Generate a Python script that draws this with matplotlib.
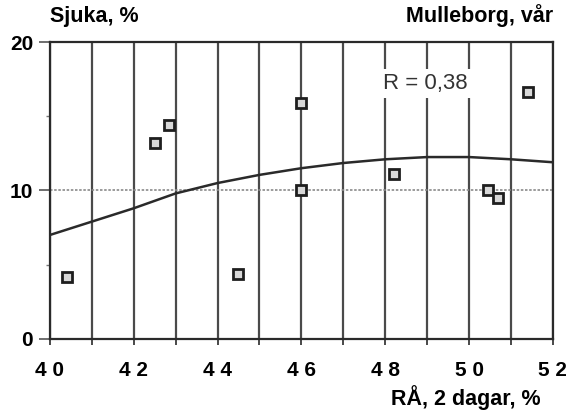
import matplotlib
matplotlib.use("Agg")
import matplotlib.pyplot as plt
import numpy as np

# Observations: RÅ after 2 days (%) vs. share diseased (%)
ra_pct = [40.4, 42.5, 42.85, 44.5, 46.0, 46.0, 48.2, 50.45, 50.7, 51.4]
sjuka_pct = [4.2, 13.2, 14.4, 4.4, 15.9, 10.0, 11.1, 10.0, 9.5, 16.6]

# Second-degree trend line, sampled at each whole percent
trend_x = [40, 41, 42, 43, 44, 45, 46, 47, 48, 49, 50, 51, 52]
trend_y = [7.0, 7.9, 8.8, 9.8, 10.5, 11.05, 11.5, 11.85, 12.1, 12.25, 12.25, 12.1, 11.9]

x_ticks = [40, 42, 44, 46, 48, 50, 52]
y_ticks = [0, 10, 20]
ref_level = 10
r_label = "R = 0,38"

plt.rcParams['font.family'] = ['Liberation Sans', 'DejaVu Sans']

fig = plt.figure(figsize=(5.66, 4.2), dpi=100)
ax = fig.add_axes([0.088, 0.193, 0.889, 0.707])
ax.set_xlim(40, 52)
ax.set_ylim(0, 20)

grid_col = '#4a4a4a'
# vertical grid at every whole percent
for gx in range(40, 53):
    ax.axvline(gx, color=grid_col, lw=1.6, zorder=1)
ax.axhline(ref_level, color='#8a8a8a', lw=1.2, ls=(0, (1.5, 1)), zorder=1)

for s in ax.spines.values():
    s.set_color('#2a2a2a')
    s.set_linewidth(1.6)

ax.plot(trend_x, trend_y, color='#2a2a2a', lw=1.8, zorder=3)
ax.plot(ra_pct, sjuka_pct, ls='none', marker='s', markersize=6.5,
        markerfacecolor='#d8d8d8', markeredgecolor='#1e1e1e',
        markeredgewidth=2.0, zorder=4)

ax.set_xticks(range(40, 53))
ax.set_xticklabels([f"{v//10} {v%10}" if v in x_ticks else "" for v in range(40, 53)],
                   fontsize=15, fontweight='bold')
ax.set_yticks(y_ticks)
ax.set_yticklabels([str(v) for v in y_ticks], fontsize=15, fontweight='bold')
ax.set_yticks([5, 15], minor=True)
ax.tick_params(axis='x', length=4, width=1.2, color='#2a2a2a', pad=12)
ax.tick_params(axis='y', which='major', length=8, width=1.2, color='#555555', pad=4)
ax.tick_params(axis='y', which='minor', length=3, width=1.0, color='#777777')

ax.text(47.95, 17.2, r_label, fontsize=16, ha='left', va='center',
        color='#333333',
        bbox=dict(facecolor='white', edgecolor='none', pad=3), zorder=5)

title_fs = 15.5
fig.text(0.088, 0.935, "Sjuka, %", fontsize=title_fs, fontweight='bold',
         ha='left', va='bottom')
fig.text(0.977, 0.935, "Mulleborg, vår", fontsize=title_fs, fontweight='bold',
         ha='right', va='bottom')
fig.text(0.955, 0.025, "RÅ, 2 dagar, %", fontsize=title_fs, fontweight='bold',
         ha='right', va='bottom')

fig.savefig("out.png", dpi=100)
